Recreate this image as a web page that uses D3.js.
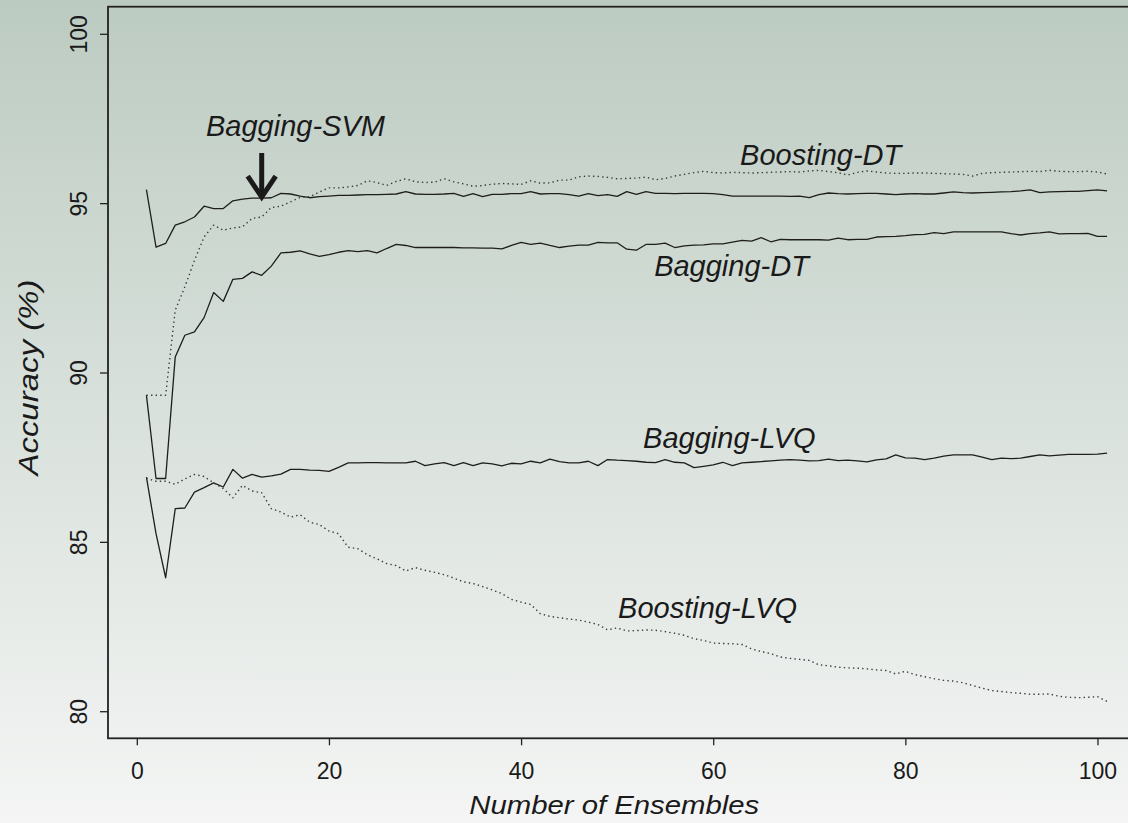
<!DOCTYPE html>
<html>
<head>
<meta charset="utf-8">
<script src="https://cdn.jsdelivr.net/npm/d3@7/dist/d3.min.js"></script>
<style>
	html, body { margin: 0; padding: 0; }
	svg { display: block; }
</style>
</head>
<body>
<svg id="chart" width="1128" height="823"></svg>
<script>
// ensembles 1..101
const ensembles = d3.range(1, 102);

const baggingSVM = [
	95.40, 93.70, 93.81, 94.35, 94.45, 94.59, 94.91, 94.84, 94.84, 95.07,
	95.12, 95.15, 95.15, 95.16, 95.29, 95.27, 95.21, 95.16, 95.19, 95.21,
	95.23, 95.23, 95.24, 95.25, 95.25, 95.26, 95.27, 95.34, 95.27, 95.26,
	95.26, 95.27, 95.29, 95.20, 95.28, 95.19, 95.26, 95.26, 95.28, 95.28,
	95.34, 95.27, 95.28, 95.28, 95.25, 95.21, 95.28, 95.22, 95.25, 95.20,
	95.34, 95.26, 95.34, 95.29, 95.29, 95.28, 95.29, 95.29, 95.29, 95.28,
	95.25, 95.21, 95.21, 95.21, 95.21, 95.21, 95.21, 95.20, 95.21, 95.16,
	95.25, 95.30, 95.28, 95.27, 95.28, 95.29, 95.29, 95.27, 95.25, 95.27,
	95.28, 95.27, 95.27, 95.30, 95.33, 95.31, 95.30, 95.31, 95.32, 95.33,
	95.34, 95.36, 95.39, 95.31, 95.33, 95.34, 95.35, 95.35, 95.37, 95.39,
	95.36
];

const baggingDT = [
	89.33, 86.87, 86.87, 90.46, 91.10, 91.20, 91.62, 92.36, 92.10, 92.75,
	92.78, 92.97, 92.87, 93.14, 93.53, 93.55, 93.59, 93.50, 93.43, 93.48,
	93.55, 93.60, 93.57, 93.60, 93.53, 93.66, 93.78, 93.75, 93.69, 93.69,
	93.69, 93.69, 93.69, 93.68, 93.68, 93.67, 93.67, 93.65, 93.75, 93.84,
	93.78, 93.82, 93.75, 93.69, 93.73, 93.76, 93.76, 93.84, 93.83, 93.83,
	93.64, 93.61, 93.78, 93.78, 93.82, 93.69, 93.74, 93.76, 93.77, 93.80,
	93.80, 93.85, 93.90, 93.88, 93.98, 93.86, 93.93, 93.92, 93.92, 93.92,
	93.92, 93.91, 93.97, 93.92, 93.93, 93.93, 94.00, 94.01, 94.02, 94.04,
	94.07, 94.08, 94.13, 94.10, 94.15, 94.15, 94.15, 94.15, 94.15, 94.15,
	94.10, 94.06, 94.10, 94.12, 94.15, 94.09, 94.10, 94.10, 94.11, 94.02,
	94.02
];

const boostingDT = [
	89.33, 89.33, 89.33, 91.84, 92.53, 93.31, 94.00, 94.35, 94.20, 94.27,
	94.30, 94.55, 94.59, 94.87, 94.91, 95.04, 95.17, 95.19, 95.33, 95.45,
	95.45, 95.48, 95.52, 95.66, 95.61, 95.52, 95.64, 95.72, 95.63, 95.61,
	95.62, 95.72, 95.63, 95.57, 95.50, 95.52, 95.56, 95.58, 95.57, 95.55,
	95.66, 95.59, 95.60, 95.68, 95.68, 95.78, 95.80, 95.79, 95.76, 95.72,
	95.73, 95.74, 95.77, 95.69, 95.73, 95.80, 95.85, 95.90, 95.94, 95.90,
	95.89, 95.91, 95.90, 95.89, 95.90, 95.91, 95.92, 95.93, 95.92, 95.95,
	95.97, 95.93, 95.90, 95.83, 95.91, 95.95, 95.92, 95.89, 95.88, 95.88,
	95.89, 95.89, 95.88, 95.87, 95.86, 95.85, 95.80, 95.88, 95.90, 95.91,
	95.92, 95.93, 95.94, 95.93, 95.97, 95.94, 95.93, 95.93, 95.94, 95.92,
	95.86
];

const baggingLVQ = [
	86.91, 85.24, 83.94, 85.98, 86.00, 86.47, 86.60, 86.74, 86.62, 87.14,
	86.88, 86.99, 86.91, 86.95, 87.00, 87.14, 87.14, 87.12, 87.11, 87.08,
	87.20, 87.33, 87.33, 87.34, 87.34, 87.33, 87.33, 87.33, 87.38, 87.25,
	87.30, 87.34, 87.25, 87.34, 87.25, 87.33, 87.30, 87.24, 87.32, 87.30,
	87.38, 87.33, 87.44, 87.37, 87.33, 87.33, 87.38, 87.25, 87.43, 87.41,
	87.40, 87.38, 87.35, 87.34, 87.43, 87.35, 87.33, 87.19, 87.23, 87.27,
	87.35, 87.25, 87.33, 87.35, 87.37, 87.39, 87.41, 87.43, 87.41, 87.39,
	87.40, 87.44, 87.40, 87.41, 87.39, 87.36, 87.42, 87.45, 87.57, 87.48,
	87.47, 87.43, 87.47, 87.53, 87.57, 87.57, 87.57, 87.50, 87.43, 87.47,
	87.46, 87.47, 87.52, 87.57, 87.54, 87.56, 87.58, 87.58, 87.58, 87.59,
	87.62
];

const boostingLVQ = [
	86.88, 86.79, 86.79, 86.70, 86.86, 86.99, 86.93, 86.74, 86.57, 86.30,
	86.67, 86.50, 86.45, 85.98, 85.88, 85.73, 85.80, 85.58, 85.51, 85.32,
	85.24, 84.84, 84.80, 84.62, 84.50, 84.36, 84.30, 84.14, 84.24, 84.16,
	84.10, 84.03, 83.93, 83.82, 83.77, 83.68, 83.58, 83.47, 83.30, 83.22,
	83.15, 82.88, 82.80, 82.76, 82.72, 82.69, 82.63, 82.56, 82.40, 82.46,
	82.37, 82.38, 82.40, 82.39, 82.35, 82.30, 82.24, 82.14, 82.09, 82.01,
	82.00, 81.99, 81.97, 81.84, 81.76, 81.70, 81.60, 81.56, 81.53, 81.50,
	81.37, 81.34, 81.30, 81.28, 81.27, 81.25, 81.22, 81.20, 81.10, 81.18,
	81.08, 81.02, 80.96, 80.91, 80.89, 80.84, 80.76, 80.68, 80.61, 80.58,
	80.55, 80.53, 80.50, 80.50, 80.51, 80.44, 80.41, 80.40, 80.41, 80.43,
	80.29
];

const xTicks = [0, 20, 40, 60, 80, 100];
const yTicks = [80, 85, 90, 95, 100];

const seriesNames = ["Bagging-SVM", "Bagging-DT", "Boosting-DT", "Bagging-LVQ", "Boosting-LVQ"];
const seriesValues = [baggingSVM, baggingDT, boostingDT, baggingLVQ, boostingLVQ];
const seriesDotted = [false, false, true, false, true];

// label anchors in data units (x = ensembles, y = accuracy)
const labelX = [7.2, 53.85, 62.8, 52.7, 50.1];
const labelY = [96.98, 92.84, 96.12, 87.76, 82.76];

// arrow pointing at Bagging-SVM
const arrowAt = {x: 13, from: 96.48, to: 95.15};

const W = 1128, H = 823;
const font = "'Liberation Sans', Arial, Helvetica, sans-serif";

let svg = d3.select("#chart");

// background gradient
let grad = svg.append("defs").append("linearGradient")
	.attr("id", "bg")
	.attr("x1", 0).attr("y1", 0).attr("x2", 0).attr("y2", 1);
grad.append("stop").attr("offset", "0%").attr("stop-color", "#bccbc1");
grad.append("stop").attr("offset", "50%").attr("stop-color", "#d9e1dc");
grad.append("stop").attr("offset", "100%").attr("stop-color", "#f4f5f4");
svg.append("rect").attr("width", W).attr("height", H).attr("fill", "url(#bg)");

let x = d3.scaleLinear().domain([-3, 105]).range([108, 1145.5]);
let y = d3.scaleLinear().domain([79.2, 100.8]).range([738.3, 6.7]);

let line = d3.line()
	.x((d, i) => x(ensembles[i]))
	.y(d => y(d));

// lines
seriesValues.forEach((vals, i) => {
	svg.append("path")
		.datum(vals)
		.attr("d", line)
		.attr("fill", "none")
		.attr("stroke", seriesDotted[i] ? "#3a3a3a" : "#1e1e1e")
		.attr("stroke-width", seriesDotted[i] ? 1.4 : 1.3)
		.attr("stroke-dasharray", seriesDotted[i] ? "1.4,3.2" : null)
		.attr("stroke-linejoin", "round");
});

// frame
svg.append("rect")
	.attr("x", x(-3)).attr("y", y(100.8))
	.attr("width", x(105) - x(-3)).attr("height", y(79.2) - y(100.8))
	.attr("fill", "none").attr("stroke", "#222").attr("stroke-width", 1.8);

// x axis
let gx = svg.append("g")
	.attr("transform", "translate(0," + y(79.2) + ")")
	.call(d3.axisBottom(x).tickValues(xTicks).tickSize(7).tickSizeOuter(0).tickPadding(17));
gx.select(".domain").remove();
gx.selectAll("line").attr("stroke", "#222").attr("stroke-width", 1.3);
gx.selectAll("text")
	.attr("fill", "#1a1a1a")
	.style("font-family", font)
	.style("font-size", "23px");

// y axis, labels rotated
let gy = svg.append("g")
	.attr("transform", "translate(" + x(-3) + ",0)")
	.call(d3.axisLeft(y).tickValues(yTicks).tickSize(8).tickSizeOuter(0));
gy.select(".domain").remove();
gy.selectAll("line").attr("stroke", "#222").attr("stroke-width", 1.3);
gy.selectAll("text")
	.attr("x", 0).attr("y", -21.5).attr("dy", 0)
	.attr("transform", "rotate(-90)")
	.attr("text-anchor", "middle")
	.attr("fill", "#1a1a1a")
	.style("font-family", font)
	.style("font-size", "23px");

// axis titles
svg.append("text")
	.attr("x", x(49.7)).attr("y", 814)
	.attr("text-anchor", "middle")
	.attr("textLength", 290).attr("lengthAdjust", "spacingAndGlyphs")
	.attr("fill", "#1a1a1a")
	.style("font-family", font).style("font-size", "25px").style("font-style", "italic")
	.text("Number of Ensembles");

svg.append("text")
	.attr("transform", "translate(38," + y(89.85) + ") rotate(-90)")
	.attr("text-anchor", "middle")
	.attr("textLength", 196).attr("lengthAdjust", "spacingAndGlyphs")
	.attr("fill", "#1a1a1a")
	.style("font-family", font).style("font-size", "27px").style("font-style", "italic")
	.text("Accuracy (%)");

// series labels
svg.selectAll(".lbl")
	.data(seriesNames)
	.enter().append("text")
	.attr("class", "lbl")
	.attr("x", (d, i) => x(labelX[i]))
	.attr("y", (d, i) => y(labelY[i]))
	.attr("fill", "#1a1a1a")
	.style("font-family", font).style("font-size", "29px").style("font-style", "italic")
	.text(d => d);

// arrow
let ax = x(arrowAt.x), ay0 = y(arrowAt.from), ay1 = y(arrowAt.to);
svg.append("path")
	.attr("d", "M" + ax + "," + ay0 + "L" + ax + "," + (ay1 - 3))
	.attr("stroke", "#1a1a1a").attr("stroke-width", 5).attr("fill", "none");
svg.append("path")
	.attr("d", "M" + (ax - 14) + "," + (ay1 - 22) + "L" + ax + "," + (ay1 - 1) + "L" + (ax + 14) + "," + (ay1 - 22))
	.attr("stroke", "#1a1a1a").attr("stroke-width", 5).attr("fill", "none")
	.attr("stroke-linejoin", "miter");
</script>
</body>
</html>
